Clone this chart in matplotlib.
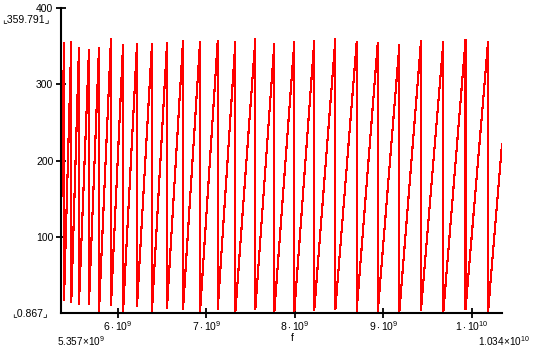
import numpy as np
import matplotlib
matplotlib.use('Agg')
import matplotlib.pyplot as plt

# sawtooth phase vs frequency
f_inicio = 5.357e9
fase_inicio = 117.0
f_quedas = [5.391e9, 5.473e9, 5.560e9, 5.673e9, 5.786e9, 5.922e9, 6.058e9, 6.216e9,
            6.385e9, 6.555e9, 6.736e9, 6.928e9, 7.128e9, 7.327e9, 7.553e9, 7.767e9,
            7.993e9, 8.219e9, 8.457e9, 8.698e9, 8.936e9, 9.180e9, 9.425e9, 9.677e9,
            9.928e9, 10.182e9]
fase_pico = [354, 355, 347, 345, 347, 359.791, 351, 353, 353, 354, 357, 355, 357, 355,
             359, 353, 355, 357, 359, 355, 354, 351, 357, 355, 358, 355]
fase_vale = [17, 14, 12, 12, 1, 11, 1, 9, 3, 7, 5, 1, 5, 0.867, 5, 1, 1, 4, 5, 3, 1,
             1, 4, 1, 5, 1]
f_fim = 1.034e10
fase_fim = 222.0

y_ticks = [100, 200, 300, 400]
x_ticks = [6e9, 7e9, 8e9, 9e9, 1e10]
x_labels = [r'$6\cdot10^{9}$', r'$7\cdot10^{9}$', r'$8\cdot10^{9}$',
            r'$9\cdot10^{9}$', r'$1\cdot10^{10}$']

# monta a curva: rampa ate o pico, queda vertical ate o vale
fx = [f_inicio]
fy = [fase_inicio]
for fq, pk, vl in zip(f_quedas, fase_pico, fase_vale):
    fx += [fq, fq]
    fy += [pk, vl]
fx.append(f_fim)
fy.append(fase_fim)

plt.rcParams['font.family'] = ['Liberation Sans', 'DejaVu Sans']
plt.rcParams['mathtext.fontset'] = 'custom'
plt.rcParams['mathtext.rm'] = 'Liberation Sans'
plt.rcParams['mathtext.it'] = 'Liberation Sans'

W, H = 533, 355
fig = plt.figure(figsize=(W / 100, H / 100), dpi=100)
ax = fig.add_axes([61 / W, 42 / H, 441 / W, 305 / H])

ax.plot(fx, fy, color='#ff0000', lw=0.8, antialiased=False)

ax.set_xlim(f_inicio, f_fim)
ax.set_ylim(0, 400)
for s in ['top', 'right']:
    ax.spines[s].set_visible(False)
for s in ['left', 'bottom']:
    ax.spines[s].set_linewidth(1.5)
ax.set_yticks(y_ticks)
ax.set_yticklabels([str(v) for v in y_ticks])
ax.set_xticks(x_ticks)
ax.set_xticklabels(x_labels)
ax.tick_params(direction='inout', length=7, width=1.3, labelsize=7.5, pad=2)
ax.tick_params(axis='x', pad=1)

def px(x, y):
    return x / W, 1 - y / H

fig.text(*px(292, 338), 'f', fontsize=7.5, ha='center', va='center')
fig.text(*px(57, 341), r'$5.357\!\times\!10^{9}$', fontsize=7.2, ha='left', va='center')
fig.text(*px(530, 341), r'$1.034\!\times\!10^{10}$', fontsize=7.2, ha='right', va='center')
fig.text(*px(2, 19), '\u231e359.791\u231f', fontsize=7.5, ha='left', va='center',
         family=['Liberation Sans', 'DejaVu Sans'])
fig.text(*px(12, 313), '\u231e0.867\u231f', fontsize=7.5, ha='left', va='center',
         family=['Liberation Sans', 'DejaVu Sans'])

fig.savefig('out.png', dpi=100)
